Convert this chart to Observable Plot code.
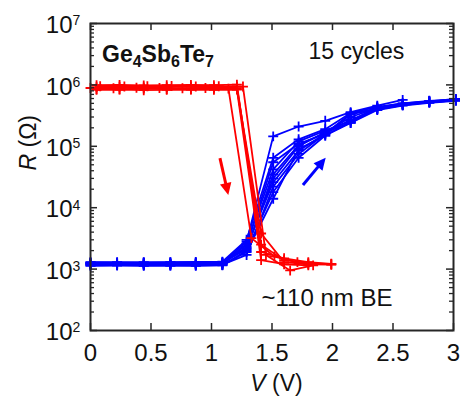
<!DOCTYPE html>
<html><head><meta charset="utf-8">
<script src="https://cdn.jsdelivr.net/npm/d3@7"></script>
<script src="https://cdn.jsdelivr.net/npm/@observablehq/plot@0.6"></script>
<style>body{margin:0;background:#fff;} svg{display:block}</style>
</head><body><div id="chart"></div>
<script>
// ---------- data ----------
const blueV = [0, 0.22, 0.44, 0.66, 0.87, 1.09, 1.29, 1.51, 1.72, 1.94, 2.15, 2.37, 2.58, 2.80, 3.02];
const blueCycles = [
  [1250,1240,1250,1230,1240,1260, 2800, 1.45e5, 2.1e5, 2.6e5, 3.6e5, 4.6e5, 5.7e5],
  [1200,1190,1200,1210,1190,1200, 2500, 5.5e4, 1.1e5, 1.6e5, 3.4e5, 4.1e5, 4.8e5, 5.3e5, 5.7e5],
  [1150,1160,1150,1140,1150,1160, 1900, 1.4e4, 9.0e4, 1.5e5, 2.5e5, 4.0e5, 4.7e5, 5.2e5, 5.6e5],
  [1280,1270,1280,1290,1280,1300, 2200, 3.0e4, 1.0e5, 1.7e5, 2.4e5, 4.2e5, 4.9e5, 5.3e5, 5.8e5],
  [1180,1180,1170,1180,1190,1180, 1700, 2.2e4, 7.5e4, 1.6e5, 3.3e5, 4.1e5, 4.8e5, 5.2e5, 5.6e5],
  [1230,1220,1230,1220,1230,1240, 2600, 4.2e4, 1.2e5, 1.8e5, 2.6e5, 4.3e5, 5.0e5, 5.4e5, 5.7e5],
  [1130,1140,1130,1140,1130,1150, 2000, 1.8e4, 6.5e4, 1.5e5, 2.4e5, 3.9e5, 4.6e5, 5.1e5, 5.5e5],
  [1300,1300,1290,1300,1310,1320, 3000, 6.5e4, 1.3e5, 1.9e5, 3.5e5, 4.4e5, 5.0e5, 5.5e5, 5.8e5],
  [1210,1200,1210,1200,1210,1220, 2300, 2.6e4, 8.5e4, 1.6e5, 2.7e5, 4.0e5, 4.7e5, 5.3e5, 5.7e5],
  [1260,1250,1260,1250,1260,1270, 2100, 3.5e4, 1.05e5, 1.65e5, 3.0e5, 4.2e5, 4.9e5, 5.4e5, 5.9e5]
];
const redVA = [0.05, 0.24, 0.44, 0.63, 0.83, 1.02, 1.21, 1.41, 1.60, 1.80, 1.99];
const redVB = [0.00, 0.19, 0.38, 0.57, 0.76, 0.95, 1.14, 1.33, 1.52, 1.71];
const redVC = [0.08, 0.28, 0.47, 0.67, 0.87, 1.06, 1.26, 1.45, 1.65, 1.84];
const redGridOf = ["A", "A", "A", "B", "C", "A"];
const redCycles = [
  [9.2e5, 9.3e5, 9.1e5, 9.2e5, 9.4e5, 9.2e5, 9.3e5, 2.5e3, 1.4e3, 1.25e3, 1.2e3],
  [8.6e5, 8.5e5, 8.7e5, 8.6e5, 8.5e5, 8.7e5, 8.6e5, 3.8e3, 1.3e3, 1.2e3, 1.18e3],
  [9.9e5, 1.0e6, 9.8e5, 9.9e5, 1.0e6, 9.9e5, 1.01e6, 1.9e3, 1.5e3, 1.3e3, 1.22e3],
  [8.9e5, 8.8e5, 9.0e5, 8.9e5, 8.8e5, 8.9e5, 8.7e5, 3.2e3, 1.6e3, 1.3e3],
  [9.5e5, 9.4e5, 9.5e5, 9.6e5, 9.4e5, 9.5e5, 9.4e5, 1.7e3, 9.5e2, 1.15e3],
  [8.3e5, 8.4e5, 8.2e5, 8.3e5, 8.4e5, 8.3e5, 8.4e5, 1.4e3, 1.2e3, 1.15e3]
];
const xTicks = [0, 0.5, 1, 1.5, 2, 2.5, 3];
const xTickLabels = ["0", "0.5", "1", "1.5", "2", "2.5", "3"];
const yExps = [2, 3, 4, 5, 6, 7];
const yMinor = [2,3,4,5,6].flatMap(e => [2,3,4,5,6,7,8,9].map(m => m * 10 ** e));
const arrowV1 = [1.074, 1.76], arrowR1 = [6.3e4, 2.3e4];
const arrowV2 = [1.143, 1.948], arrowR2 = [1.58e4, 6.4e4];
const arrowColors = ["#ff0000", "#0000ff"];

// ---------- build ----------
const W = 460, H = 397, mL = 90, mR = 7, mT = 23, mB = 67;
const fw = W - mL - mR, fh = H - mT - mB;
const ink = "#262626", txt = "#111";
const font = "'Liberation Sans', Arial, Helvetica, sans-serif";
const redGrids = {A: redVA, B: redVB, C: redVC};

const blueRows = blueCycles.flatMap((rs, i) => rs.map((r, j) => ({cycle: "b" + i, V: blueV[j], R: r})));
const redRows = redCycles.flatMap((rs, i) => rs.map((r, j) => ({cycle: "r" + i, V: redGrids[redGridOf[i]][j], R: r})));

const lw = 1.8;
const plot = Plot.plot({
  width: W, height: H, marginLeft: mL, marginRight: mR, marginTop: mT, marginBottom: mB,
  style: {fontFamily: font, background: "#fff", overflow: "visible"},
  x: {domain: [0, 3], axis: null},
  y: {type: "log", domain: [1e2, 1e7], axis: null},
  marks: [
    Plot.line(blueRows, {x: "V", y: "R", z: "cycle", stroke: "#0000ff", strokeWidth: lw}),
    Plot.dot(blueRows, {x: "V", y: "R", symbol: "plus", r: 3.3, stroke: "#0000ff", fill: "none", strokeWidth: lw}),
    Plot.line(redRows, {x: "V", y: "R", z: "cycle", stroke: "#ff0000", strokeWidth: lw}),
    Plot.dot(redRows, {x: "V", y: "R", symbol: "plus", r: 3.3, stroke: "#ff0000", fill: "none", strokeWidth: lw}),
    Plot.ruleY(yMinor, {y: d => d, insetRight: fw - 4, stroke: ink, strokeWidth: 1.3}),
    Plot.ruleY(yMinor, {y: d => d, insetLeft: fw - 4, stroke: ink, strokeWidth: 1.3}),
    Plot.ruleY(yExps, {y: d => 10 ** d, insetRight: fw - 7, stroke: ink, strokeWidth: 1.5}),
    Plot.ruleY(yExps, {y: d => 10 ** d, insetLeft: fw - 7, stroke: ink, strokeWidth: 1.5}),
    Plot.ruleX(xTicks, {x: d => d, insetTop: fh - 7, stroke: ink, strokeWidth: 1.5}),
    Plot.ruleX(xTicks, {x: d => d, insetBottom: fh - 7, stroke: ink, strokeWidth: 1.5}),
    Plot.frame({stroke: ink, strokeWidth: 2}),
    Plot.text(yExps, {y: d => 10 ** d, text: () => "10", frameAnchor: "left", textAnchor: "end", dx: -18, dy: 2, fontSize: 24, fill: txt}),
    Plot.text(yExps, {y: d => 10 ** d, text: d => String(d), frameAnchor: "left", textAnchor: "start", dx: -18, dy: -2.5, fontSize: 14, fill: txt}),
    Plot.text(xTicks, {x: d => d, text: (d, i) => xTickLabels[i], frameAnchor: "bottom", lineAnchor: "top", dy: 13, fontSize: 24, fill: txt}),
    Plot.text(["V (V)"], {text: d => d, frameAnchor: "bottom", lineAnchor: "top", dx: 4.5, dy: 44.5, fontSize: 23, fill: txt}),
    Plot.text(["R (Ω)"], {text: d => d, frameAnchor: "left", rotate: -90, dx: -61.7, dy: -6.5, fontSize: 23, fill: txt}),
    Plot.text(["Ge4Sb6Te7"], {text: d => d, frameAnchor: "top-left", textAnchor: "start", lineAnchor: "top", dx: 11.5, dy: 22, fontSize: 23, fontWeight: "bold", fill: txt}),
    Plot.text(["15 cycles"], {text: d => d, frameAnchor: "top-left", textAnchor: "start", lineAnchor: "top", dx: 218, dy: 19.5, fontSize: 23, fill: txt}),
    Plot.text(["~110 nm BE"], {text: d => d, frameAnchor: "top-left", textAnchor: "start", lineAnchor: "top", dx: 171, dy: 265.5, fontSize: 24, fill: txt})
  ]
});
document.getElementById("chart").appendChild(plot);

// rich text (italic / subscripts) as real text
function rich(key, parts) {
  d3.select(plot).selectAll("text").filter(function() { return this.textContent === key; }).each(function() {
    const t = d3.select(this); t.text(null);
    parts.forEach(p => {
      const s = t.append("tspan").text(p.t);
      if (p.it) s.attr("font-style", "italic");
      if (p.size) s.attr("font-size", p.size);
      if (p.dy) s.attr("dy", p.dy);
    });
  });
}
rich("V (V)", [{t: "V", it: true}, {t: " (V)"}]);
rich("R (Ω)", [{t: "R", it: true}, {t: " (Ω)"}]);
rich("Ge4Sb6Te7", [{t: "Ge"}, {t: "4", size: 16, dy: 5}, {t: "Sb", dy: -5}, {t: "6", size: 16, dy: 5}, {t: "Te", dy: -5}, {t: "7", size: 16, dy: 5}]);

// arrows with filled heads, positioned through Plot's scales
const sx = plot.scale("x"), sy = plot.scale("y");
const g = d3.select(plot).append("g");
arrowV1.forEach((v, i) => {
  const x1 = sx.apply(v), y1 = sy.apply(arrowR1[i]);
  const x2 = sx.apply(arrowV2[i]), y2 = sy.apply(arrowR2[i]);
  const L = Math.hypot(x2 - x1, y2 - y1), ux = (x2 - x1) / L, uy = (y2 - y1) / L;
  const nx = -uy, ny = ux, hl = 12, hw = 5.8;
  const bx = x2 - ux * hl, by = y2 - uy * hl;
  g.append("line").attr("x1", x1).attr("y1", y1).attr("x2", bx + ux).attr("y2", by + uy)
    .attr("stroke", arrowColors[i]).attr("stroke-width", 3);
  g.append("path").attr("d", `M${x2},${y2}L${bx + nx * hw},${by + ny * hw}L${bx - nx * hw},${by - ny * hw}Z`)
    .attr("fill", arrowColors[i]);
});
</script></body></html>
